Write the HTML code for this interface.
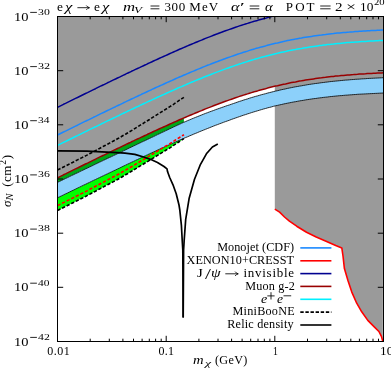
<!DOCTYPE html>
<html><head><meta charset="utf-8"><style>
html,body{margin:0;padding:0;background:#fff}
#w{position:relative;width:391px;height:369px;overflow:hidden;background:#fff;font-family:"Liberation Serif",serif;color:#000}
.t{position:absolute;white-space:pre;line-height:1;transform-origin:0 0;display:block}
.i{font-style:italic}
.r{position:absolute;white-space:nowrap;line-height:1;transform-origin:0 0;transform:rotate(-90deg) translateY(-100%)}
#tx{position:absolute;left:0;top:0;width:391px;height:369px;will-change:transform}
</style></head><body><div id="w">
<svg width="391" height="369" viewBox="0 0 391 369" style="position:absolute;left:0;top:0">
<defs><clipPath id="c"><rect x="57.5" y="16.5" width="326.0" height="325.0"/></clipPath></defs>
<g clip-path="url(#c)" fill="none" stroke-linejoin="round">
<polygon fill="#9a9a9a" points="57.5,16.5 57.5,177.8 59.5,176.8 61.5,175.8 63.5,174.8 65.5,173.9 67.5,172.9 69.5,171.9 71.5,170.9 73.5,169.9 75.5,168.9 77.5,168.0 79.5,167.0 81.5,166.0 83.5,165.0 85.5,164.0 87.5,163.1 89.5,162.1 91.5,161.1 93.5,160.1 95.5,159.2 97.5,158.2 99.5,157.2 101.5,156.2 103.5,155.3 105.5,154.3 107.5,153.3 109.5,152.4 111.5,151.4 113.5,150.4 115.5,149.5 117.5,148.5 119.5,147.6 121.5,146.6 123.5,145.6 125.5,144.7 127.5,143.7 129.5,142.8 131.5,141.8 133.5,140.9 135.5,139.9 137.5,139.0 139.5,138.1 141.5,137.1 143.5,136.2 145.5,135.3 147.5,134.3 149.5,133.4 151.5,132.5 153.5,131.5 155.5,130.6 157.5,129.7 159.5,128.8 161.5,127.9 163.5,127.0 165.5,126.1 167.5,125.2 169.5,124.3 171.5,123.4 173.5,122.5 175.5,121.6 177.5,120.7 179.5,119.8 181.5,119.0 183.5,118.1 185.5,117.3 187.5,116.4 189.5,115.5 191.5,114.7 193.5,113.9 195.5,113.0 197.5,112.2 199.5,111.4 201.5,110.6 203.5,109.7 205.5,108.9 207.5,108.1 209.5,107.4 211.5,106.6 213.5,105.8 215.5,105.0 217.5,104.3 219.5,103.5 221.5,102.8 223.5,102.0 225.5,101.3 227.5,100.6 229.5,99.9 231.5,99.2 233.5,98.5 235.5,97.8 237.5,97.1 239.5,96.4 241.5,95.8 243.5,95.1 245.5,94.5 247.5,93.9 249.5,93.2 251.5,92.6 253.5,92.0 255.5,91.4 257.5,90.9 259.5,90.3 261.5,89.7 263.5,89.2 265.5,88.7 267.5,88.1 269.5,87.6 271.5,87.1 273.5,86.6 274.8,86.3 274.8,209.1 279.6,212.1 284.5,217.0 289.4,221.1 296.7,226.2 306.5,232.3 316.2,237.0 326.0,241.3 335.7,245.5 341.8,247.9 343.0,256.0 344.4,268.6 348.1,281.0 351.8,292.1 356.7,303.2 361.7,311.8 367.8,320.4 374.0,326.6 378.9,331.5 381.4,336.4 382.8,341.4 383.5,16.5"/>
<polygon fill="#00a618" points="57.5,177.8 59.5,176.8 61.5,175.8 63.5,174.8 65.5,173.9 67.5,172.9 69.5,171.9 71.5,170.9 73.5,169.9 75.5,168.9 77.5,168.0 79.5,167.0 81.5,166.0 83.5,165.0 85.5,164.0 87.5,163.1 89.5,162.1 91.5,161.1 93.5,160.1 95.5,159.2 97.5,158.2 99.5,157.2 101.5,156.2 103.5,155.3 105.5,154.3 107.5,153.3 109.5,152.4 111.5,151.4 113.5,150.4 115.5,149.5 117.5,148.5 119.5,147.6 121.5,146.6 123.5,145.6 125.5,144.7 127.5,143.7 129.5,142.8 131.5,141.8 133.5,140.9 135.5,139.9 137.5,139.0 139.5,138.1 141.5,137.1 143.5,136.2 145.5,135.3 147.5,134.3 149.5,133.4 151.5,132.5 153.5,131.5 155.5,130.6 157.5,129.7 159.5,128.8 161.5,127.9 163.5,127.0 165.5,126.1 167.5,125.2 169.5,124.3 171.5,123.4 173.5,122.5 175.5,121.6 177.5,120.7 179.5,119.8 181.5,119.0 183.5,118.1 183.9,117.9 183.9,122.2 183.5,122.4 181.5,123.3 179.5,124.3 177.5,125.2 175.5,126.1 173.5,127.0 171.5,128.0 169.5,128.9 167.5,129.9 165.5,130.8 163.5,131.8 161.5,132.7 159.5,133.7 157.5,134.6 155.5,135.6 153.5,136.6 151.5,137.5 149.5,138.5 147.5,139.4 145.5,140.4 143.5,141.3 141.5,142.2 139.5,143.2 137.5,144.1 135.5,145.1 133.5,146.0 131.5,147.0 129.5,147.9 127.5,148.9 125.5,149.9 123.5,150.8 121.5,151.8 119.5,152.8 117.5,153.7 115.5,154.7 113.5,155.6 111.5,156.6 109.5,157.5 107.5,158.4 105.5,159.4 103.5,160.3 101.5,161.3 99.5,162.2 97.5,163.2 95.5,164.1 93.5,165.1 91.5,166.1 89.5,167.0 87.5,168.0 85.5,168.9 83.5,169.9 81.5,170.8 79.5,171.8 77.5,172.8 75.5,173.7 73.5,174.7 71.5,175.6 69.5,176.6 67.5,177.6 65.5,178.5 63.5,179.5 61.5,180.5 59.5,181.4 57.5,182.4"/>
<polygon fill="#00ff00" points="57.5,197.8 59.5,196.8 61.5,195.9 63.5,194.9 65.5,193.9 67.5,193.0 69.5,192.0 71.5,191.0 73.5,190.1 75.5,189.1 77.5,188.1 79.5,187.2 81.5,186.2 83.5,185.2 85.5,184.3 87.5,183.3 89.5,182.4 91.5,181.4 93.5,180.4 95.5,179.5 97.5,178.5 99.5,177.6 101.5,176.6 103.5,175.7 105.5,174.7 107.5,173.8 109.5,172.8 111.5,171.9 113.5,170.9 115.5,170.0 117.5,169.0 119.5,168.1 121.5,167.1 123.5,166.1 125.5,165.2 127.5,164.2 129.5,163.3 131.5,162.3 133.5,161.4 135.5,160.4 137.5,159.5 139.5,158.5 141.5,157.6 143.5,156.6 145.5,155.7 147.5,154.8 149.5,153.8 151.5,152.9 153.5,152.0 155.5,151.1 157.5,150.1 159.5,149.2 161.5,148.3 163.5,147.4 165.5,146.5 167.5,145.6 169.5,144.7 171.5,143.8 173.5,142.9 175.5,142.0 177.5,141.1 179.5,140.2 181.5,139.4 183.5,138.5 183.9,138.3 183.9,138.7 183.5,138.9 181.5,140.2 179.5,141.5 177.5,142.8 175.5,144.1 173.5,145.4 171.5,146.8 169.5,148.1 167.5,149.3 165.5,150.5 163.5,151.7 161.5,152.9 159.5,154.2 157.5,155.4 155.5,156.6 153.5,157.9 151.5,159.1 149.5,160.4 147.5,161.6 145.5,162.8 143.5,164.0 141.5,165.2 139.5,166.4 137.5,167.7 135.5,168.9 133.5,170.1 131.5,171.3 129.5,172.5 127.5,173.7 125.5,174.8 123.5,176.0 121.5,177.2 119.5,178.3 117.5,179.5 115.5,180.6 113.5,181.6 111.5,182.7 109.5,183.7 107.5,184.8 105.5,185.8 103.5,186.9 101.5,188.0 99.5,189.0 97.5,190.1 95.5,191.2 93.5,192.2 91.5,193.3 89.5,194.4 87.5,195.4 85.5,196.5 83.5,197.5 81.5,198.5 79.5,199.5 77.5,200.5 75.5,201.5 73.5,202.5 71.5,203.5 69.5,204.5 67.5,205.5 65.5,206.5 63.5,207.5 61.5,208.5 59.5,209.5 57.5,210.5"/>
<polygon fill="#8cd0fa" points="57.5,182.4 59.5,181.4 61.5,180.5 63.5,179.5 65.5,178.5 67.5,177.6 69.5,176.6 71.5,175.6 73.5,174.7 75.5,173.7 77.5,172.8 79.5,171.8 81.5,170.8 83.5,169.9 85.5,168.9 87.5,168.0 89.5,167.0 91.5,166.1 93.5,165.1 95.5,164.1 97.5,163.2 99.5,162.2 101.5,161.3 103.5,160.3 105.5,159.4 107.5,158.4 109.5,157.5 111.5,156.6 113.5,155.6 115.5,154.7 117.5,153.7 119.5,152.8 121.5,151.8 123.5,150.8 125.5,149.9 127.5,148.9 129.5,147.9 131.5,147.0 133.5,146.0 135.5,145.1 137.5,144.1 139.5,143.2 141.5,142.2 143.5,141.3 145.5,140.4 147.5,139.4 149.5,138.5 151.5,137.5 153.5,136.6 155.5,135.6 157.5,134.6 159.5,133.7 161.5,132.7 163.5,131.8 165.5,130.8 167.5,129.9 169.5,128.9 171.5,128.0 173.5,127.0 175.5,126.1 177.5,125.2 179.5,124.3 181.5,123.3 183.5,122.4 185.5,121.6 187.5,120.7 189.5,119.9 191.5,119.0 193.5,118.2 195.5,117.4 197.5,116.6 199.5,115.8 201.5,115.0 203.5,114.2 205.5,113.4 207.5,112.7 209.5,111.9 211.5,111.2 213.5,110.5 215.5,109.7 217.5,109.0 219.5,108.3 221.5,107.6 223.5,106.9 225.5,106.2 227.5,105.5 229.5,104.9 231.5,104.2 233.5,103.5 235.5,102.8 237.5,102.1 239.5,101.4 241.5,100.8 243.5,100.1 245.5,99.5 247.5,98.9 249.5,98.2 251.5,97.6 253.5,97.0 255.5,96.4 257.5,95.9 259.5,95.3 261.5,94.7 263.5,94.2 265.5,93.7 267.5,93.1 269.5,92.6 271.5,92.1 273.5,91.6 275.5,91.1 277.5,90.7 279.5,90.2 281.5,89.7 283.5,89.3 285.5,88.9 287.5,88.4 289.5,88.0 291.5,87.6 293.5,87.2 295.5,86.8 297.5,86.5 299.5,86.1 301.5,85.8 303.5,85.4 305.5,85.1 307.5,84.7 309.5,84.4 311.5,84.1 313.5,83.8 315.5,83.5 317.5,83.3 319.5,83.0 321.5,82.7 323.5,82.5 325.5,82.2 327.5,82.0 329.5,81.7 331.5,81.5 333.5,81.3 335.5,81.1 337.5,80.9 339.5,80.7 341.5,80.5 343.5,80.3 345.5,80.1 347.5,80.0 349.5,79.8 351.5,79.6 353.5,79.5 355.5,79.3 357.5,79.2 359.5,79.1 361.5,78.9 363.5,78.8 365.5,78.7 367.5,78.5 369.5,78.4 371.5,78.3 373.5,78.2 375.5,78.1 377.5,78.0 379.5,77.9 381.5,77.8 383.5,77.7 383.5,93.0 381.5,93.1 379.5,93.2 377.5,93.3 375.5,93.4 373.5,93.5 371.5,93.6 369.5,93.7 367.5,93.8 365.5,93.9 363.5,94.0 361.5,94.1 359.5,94.2 357.5,94.3 355.5,94.5 353.5,94.6 351.5,94.8 349.5,94.9 347.5,95.1 345.5,95.2 343.5,95.4 341.5,95.6 339.5,95.7 337.5,95.9 335.5,96.1 333.5,96.3 331.5,96.5 329.5,96.7 327.5,97.0 325.5,97.2 323.5,97.4 321.5,97.7 319.5,97.9 317.5,98.2 315.5,98.5 313.5,98.7 311.5,99.0 309.5,99.3 307.5,99.6 305.5,99.9 303.5,100.3 301.5,100.6 299.5,100.9 297.5,101.3 295.5,101.7 293.5,102.0 291.5,102.4 289.5,102.8 287.5,103.2 285.5,103.6 283.5,104.0 281.5,104.5 279.5,104.9 277.5,105.4 275.5,105.8 273.5,106.3 271.5,106.9 269.5,107.4 267.5,107.9 265.5,108.5 263.5,109.0 261.5,109.6 259.5,110.2 257.5,110.8 255.5,111.4 253.5,112.0 251.5,112.6 249.5,113.3 247.5,113.9 245.5,114.6 243.5,115.2 241.5,115.9 239.5,116.6 237.5,117.3 235.5,118.0 233.5,118.7 231.5,119.4 229.5,120.2 227.5,120.9 225.5,121.6 223.5,122.3 221.5,123.1 219.5,123.8 217.5,124.6 215.5,125.3 213.5,126.1 211.5,126.9 209.5,127.7 207.5,128.5 205.5,129.3 203.5,130.1 201.5,130.9 199.5,131.7 197.5,132.6 195.5,133.4 193.5,134.2 191.5,135.1 189.5,135.9 187.5,136.8 185.5,137.6 183.5,138.5 181.5,139.4 179.5,140.2 177.5,141.1 175.5,142.0 173.5,142.9 171.5,143.8 169.5,144.7 167.5,145.6 165.5,146.5 163.5,147.4 161.5,148.3 159.5,149.2 157.5,150.1 155.5,151.1 153.5,152.0 151.5,152.9 149.5,153.8 147.5,154.8 145.5,155.7 143.5,156.6 141.5,157.6 139.5,158.5 137.5,159.5 135.5,160.4 133.5,161.4 131.5,162.3 129.5,163.3 127.5,164.2 125.5,165.2 123.5,166.1 121.5,167.1 119.5,168.1 117.5,169.0 115.5,170.0 113.5,170.9 111.5,171.9 109.5,172.8 107.5,173.8 105.5,174.7 103.5,175.7 101.5,176.6 99.5,177.6 97.5,178.5 95.5,179.5 93.5,180.4 91.5,181.4 89.5,182.4 87.5,183.3 85.5,184.3 83.5,185.2 81.5,186.2 79.5,187.2 77.5,188.1 75.5,189.1 73.5,190.1 71.5,191.0 69.5,192.0 67.5,193.0 65.5,193.9 63.5,194.9 61.5,195.9 59.5,196.8 57.5,197.8"/>
<polyline stroke="#000" stroke-width="0.8" points="57.5,182.4 59.5,181.4 61.5,180.5 63.5,179.5 65.5,178.5 67.5,177.6 69.5,176.6 71.5,175.6 73.5,174.7 75.5,173.7 77.5,172.8 79.5,171.8 81.5,170.8 83.5,169.9 85.5,168.9 87.5,168.0 89.5,167.0 91.5,166.1 93.5,165.1 95.5,164.1 97.5,163.2 99.5,162.2 101.5,161.3 103.5,160.3 105.5,159.4 107.5,158.4 109.5,157.5 111.5,156.6 113.5,155.6 115.5,154.7 117.5,153.7 119.5,152.8 121.5,151.8 123.5,150.8 125.5,149.9 127.5,148.9 129.5,147.9 131.5,147.0 133.5,146.0 135.5,145.1 137.5,144.1 139.5,143.2 141.5,142.2 143.5,141.3 145.5,140.4 147.5,139.4 149.5,138.5 151.5,137.5 153.5,136.6 155.5,135.6 157.5,134.6 159.5,133.7 161.5,132.7 163.5,131.8 165.5,130.8 167.5,129.9 169.5,128.9 171.5,128.0 173.5,127.0 175.5,126.1 177.5,125.2 179.5,124.3 181.5,123.3 183.5,122.4 185.5,121.6 187.5,120.7 189.5,119.9 191.5,119.0 193.5,118.2 195.5,117.4 197.5,116.6 199.5,115.8 201.5,115.0 203.5,114.2 205.5,113.4 207.5,112.7 209.5,111.9 211.5,111.2 213.5,110.5 215.5,109.7 217.5,109.0 219.5,108.3 221.5,107.6 223.5,106.9 225.5,106.2 227.5,105.5 229.5,104.9 231.5,104.2 233.5,103.5 235.5,102.8 237.5,102.1 239.5,101.4 241.5,100.8 243.5,100.1 245.5,99.5 247.5,98.9 249.5,98.2 251.5,97.6 253.5,97.0 255.5,96.4 257.5,95.9 259.5,95.3 261.5,94.7 263.5,94.2 265.5,93.7 267.5,93.1 269.5,92.6 271.5,92.1 273.5,91.6 275.5,91.1 277.5,90.7 279.5,90.2 281.5,89.7 283.5,89.3 285.5,88.9 287.5,88.4 289.5,88.0 291.5,87.6 293.5,87.2 295.5,86.8 297.5,86.5 299.5,86.1 301.5,85.8 303.5,85.4 305.5,85.1 307.5,84.7 309.5,84.4 311.5,84.1 313.5,83.8 315.5,83.5 317.5,83.3 319.5,83.0 321.5,82.7 323.5,82.5 325.5,82.2 327.5,82.0 329.5,81.7 331.5,81.5 333.5,81.3 335.5,81.1 337.5,80.9 339.5,80.7 341.5,80.5 343.5,80.3 345.5,80.1 347.5,80.0 349.5,79.8 351.5,79.6 353.5,79.5 355.5,79.3 357.5,79.2 359.5,79.1 361.5,78.9 363.5,78.8 365.5,78.7 367.5,78.5 369.5,78.4 371.5,78.3 373.5,78.2 375.5,78.1 377.5,78.0 379.5,77.9 381.5,77.8 383.5,77.7"/>
<polyline stroke="#000" stroke-width="0.8" points="57.5,197.8 59.5,196.8 61.5,195.9 63.5,194.9 65.5,193.9 67.5,193.0 69.5,192.0 71.5,191.0 73.5,190.1 75.5,189.1 77.5,188.1 79.5,187.2 81.5,186.2 83.5,185.2 85.5,184.3 87.5,183.3 89.5,182.4 91.5,181.4 93.5,180.4 95.5,179.5 97.5,178.5 99.5,177.6 101.5,176.6 103.5,175.7 105.5,174.7 107.5,173.8 109.5,172.8 111.5,171.9 113.5,170.9 115.5,170.0 117.5,169.0 119.5,168.1 121.5,167.1 123.5,166.1 125.5,165.2 127.5,164.2 129.5,163.3 131.5,162.3 133.5,161.4 135.5,160.4 137.5,159.5 139.5,158.5 141.5,157.6 143.5,156.6 145.5,155.7 147.5,154.8 149.5,153.8 151.5,152.9 153.5,152.0 155.5,151.1 157.5,150.1 159.5,149.2 161.5,148.3 163.5,147.4 165.5,146.5 167.5,145.6 169.5,144.7 171.5,143.8 173.5,142.9 175.5,142.0 177.5,141.1 179.5,140.2 181.5,139.4 183.5,138.5 185.5,137.6 187.5,136.8 189.5,135.9 191.5,135.1 193.5,134.2 195.5,133.4 197.5,132.6 199.5,131.7 201.5,130.9 203.5,130.1 205.5,129.3 207.5,128.5 209.5,127.7 211.5,126.9 213.5,126.1 215.5,125.3 217.5,124.6 219.5,123.8 221.5,123.1 223.5,122.3 225.5,121.6 227.5,120.9 229.5,120.2 231.5,119.4 233.5,118.7 235.5,118.0 237.5,117.3 239.5,116.6 241.5,115.9 243.5,115.2 245.5,114.6 247.5,113.9 249.5,113.3 251.5,112.6 253.5,112.0 255.5,111.4 257.5,110.8 259.5,110.2 261.5,109.6 263.5,109.0 265.5,108.5 267.5,107.9 269.5,107.4 271.5,106.9 273.5,106.3 275.5,105.8 277.5,105.4 279.5,104.9 281.5,104.5 283.5,104.0 285.5,103.6 287.5,103.2 289.5,102.8 291.5,102.4 293.5,102.0 295.5,101.7 297.5,101.3 299.5,100.9 301.5,100.6 303.5,100.3 305.5,99.9 307.5,99.6 309.5,99.3 311.5,99.0 313.5,98.7 315.5,98.5 317.5,98.2 319.5,97.9 321.5,97.7 323.5,97.4 325.5,97.2 327.5,97.0 329.5,96.7 331.5,96.5 333.5,96.3 335.5,96.1 337.5,95.9 339.5,95.7 341.5,95.6 343.5,95.4 345.5,95.2 347.5,95.1 349.5,94.9 351.5,94.8 353.5,94.6 355.5,94.5 357.5,94.3 359.5,94.2 361.5,94.1 363.5,94.0 365.5,93.9 367.5,93.8 369.5,93.7 371.5,93.6 373.5,93.5 375.5,93.4 377.5,93.3 379.5,93.2 381.5,93.1 383.5,93.0"/>
<polyline stroke="#990000" stroke-width="1.5" points="57.5,177.8 59.5,176.8 61.5,175.8 63.5,174.8 65.5,173.9 67.5,172.9 69.5,171.9 71.5,170.9 73.5,169.9 75.5,168.9 77.5,168.0 79.5,167.0 81.5,166.0 83.5,165.0 85.5,164.0 87.5,163.1 89.5,162.1 91.5,161.1 93.5,160.1 95.5,159.2 97.5,158.2 99.5,157.2 101.5,156.2 103.5,155.3 105.5,154.3 107.5,153.3 109.5,152.4 111.5,151.4 113.5,150.4 115.5,149.5 117.5,148.5 119.5,147.6 121.5,146.6 123.5,145.6 125.5,144.7 127.5,143.7 129.5,142.8 131.5,141.8 133.5,140.9 135.5,139.9 137.5,139.0 139.5,138.1 141.5,137.1 143.5,136.2 145.5,135.3 147.5,134.3 149.5,133.4 151.5,132.5 153.5,131.5 155.5,130.6 157.5,129.7 159.5,128.8 161.5,127.9 163.5,127.0 165.5,126.1 167.5,125.2 169.5,124.3 171.5,123.4 173.5,122.5 175.5,121.6 177.5,120.7 179.5,119.8 181.5,119.0 183.5,118.1 185.5,117.3 187.5,116.4 189.5,115.5 191.5,114.7 193.5,113.9 195.5,113.0 197.5,112.2 199.5,111.4 201.5,110.6 203.5,109.7 205.5,108.9 207.5,108.1 209.5,107.4 211.5,106.6 213.5,105.8 215.5,105.0 217.5,104.3 219.5,103.5 221.5,102.8 223.5,102.0 225.5,101.3 227.5,100.6 229.5,99.9 231.5,99.2 233.5,98.5 235.5,97.8 237.5,97.1 239.5,96.4 241.5,95.8 243.5,95.1 245.5,94.5 247.5,93.9 249.5,93.2 251.5,92.6 253.5,92.0 255.5,91.4 257.5,90.9 259.5,90.3 261.5,89.7 263.5,89.2 265.5,88.7 267.5,88.1 269.5,87.6 271.5,87.1 273.5,86.6 275.5,86.1 277.5,85.7 279.5,85.2 281.5,84.7 283.5,84.3 285.5,83.9 287.5,83.4 289.5,83.0 291.5,82.6 293.5,82.2 295.5,81.9 297.5,81.5 299.5,81.1 301.5,80.8 303.5,80.4 305.5,80.1 307.5,79.8 309.5,79.5 311.5,79.2 313.5,78.9 315.5,78.6 317.5,78.3 319.5,78.0 321.5,77.8 323.5,77.5 325.5,77.3 327.5,77.0 329.5,76.8 331.5,76.6 333.5,76.4 335.5,76.1 337.5,75.9 339.5,75.8 341.5,75.6 343.5,75.4 345.5,75.2 347.5,75.0 349.5,74.9 351.5,74.7 353.5,74.6 355.5,74.4 357.5,74.3 359.5,74.1 361.5,74.0 363.5,73.9 365.5,73.8 367.5,73.6 369.5,73.5 371.5,73.4 373.5,73.3 375.5,73.2 377.5,73.1 379.5,73.0 381.5,72.9 383.5,72.8"/>
<polyline stroke="#00f0ff" stroke-width="1.5" points="57.5,145.4 59.5,144.4 61.5,143.4 63.5,142.4 65.5,141.5 67.5,140.5 69.5,139.5 71.5,138.5 73.5,137.5 75.5,136.5 77.5,135.6 79.5,134.6 81.5,133.6 83.5,132.6 85.5,131.6 87.5,130.7 89.5,129.7 91.5,128.7 93.5,127.7 95.5,126.8 97.5,125.8 99.5,124.8 101.5,123.8 103.5,122.9 105.5,121.9 107.5,120.9 109.5,120.0 111.5,119.0 113.5,118.0 115.5,117.1 117.5,116.1 119.5,115.2 121.5,114.2 123.5,113.2 125.5,112.3 127.5,111.3 129.5,110.4 131.5,109.4 133.5,108.5 135.5,107.5 137.5,106.6 139.5,105.7 141.5,104.7 143.5,103.8 145.5,102.9 147.5,101.9 149.5,101.0 151.5,100.1 153.5,99.1 155.5,98.2 157.5,97.3 159.5,96.4 161.5,95.5 163.5,94.6 165.5,93.7 167.5,92.8 169.5,91.9 171.5,91.0 173.5,90.1 175.5,89.2 177.5,88.3 179.5,87.4 181.5,86.6 183.5,85.7 185.5,84.9 187.5,84.0 189.5,83.1 191.5,82.3 193.5,81.5 195.5,80.6 197.5,79.8 199.5,79.0 201.5,78.2 203.5,77.3 205.5,76.5 207.5,75.7 209.5,75.0 211.5,74.2 213.5,73.4 215.5,72.6 217.5,71.9 219.5,71.1 221.5,70.4 223.5,69.6 225.5,68.9 227.5,68.2 229.5,67.5 231.5,66.8 233.5,66.1 235.5,65.4 237.5,64.7 239.5,64.0 241.5,63.4 243.5,62.7 245.5,62.1 247.5,61.5 249.5,60.8 251.5,60.2 253.5,59.6 255.5,59.0 257.5,58.5 259.5,57.9 261.5,57.3 263.5,56.8 265.5,56.3 267.5,55.7 269.5,55.2 271.5,54.7 273.5,54.2 275.5,53.7 277.5,53.3 279.5,52.8 281.5,52.3 283.5,51.9 285.5,51.5 287.5,51.0 289.5,50.6 291.5,50.2 293.5,49.8 295.5,49.5 297.5,49.1 299.5,48.7 301.5,48.4 303.5,48.0 305.5,47.7 307.5,47.4 309.5,47.1 311.5,46.8 313.5,46.5 315.5,46.2 317.5,45.9 319.5,45.6 321.5,45.4 323.5,45.1 325.5,44.9 327.5,44.6 329.5,44.4 331.5,44.2 333.5,44.0 335.5,43.7 337.5,43.5 339.5,43.4 341.5,43.2 343.5,43.0 345.5,42.8 347.5,42.6 349.5,42.5 351.5,42.3 353.5,42.2 355.5,42.0 357.5,41.9 359.5,41.7 361.5,41.6 363.5,41.5 365.5,41.4 367.5,41.2 369.5,41.1 371.5,41.0 373.5,40.9 375.5,40.8 377.5,40.7 379.5,40.6 381.5,40.5 383.5,40.4"/>
<polyline stroke="#1a88ff" stroke-width="1.5" points="57.5,135.0 59.5,134.0 61.5,133.0 63.5,132.0 65.5,131.1 67.5,130.1 69.5,129.1 71.5,128.1 73.5,127.1 75.5,126.1 77.5,125.2 79.5,124.2 81.5,123.2 83.5,122.2 85.5,121.2 87.5,120.3 89.5,119.3 91.5,118.3 93.5,117.3 95.5,116.4 97.5,115.4 99.5,114.4 101.5,113.4 103.5,112.5 105.5,111.5 107.5,110.5 109.5,109.6 111.5,108.6 113.5,107.6 115.5,106.7 117.5,105.7 119.5,104.8 121.5,103.8 123.5,102.8 125.5,101.9 127.5,100.9 129.5,100.0 131.5,99.0 133.5,98.1 135.5,97.1 137.5,96.2 139.5,95.3 141.5,94.3 143.5,93.4 145.5,92.5 147.5,91.5 149.5,90.6 151.5,89.7 153.5,88.7 155.5,87.8 157.5,86.9 159.5,86.0 161.5,85.1 163.5,84.2 165.5,83.3 167.5,82.4 169.5,81.5 171.5,80.6 173.5,79.7 175.5,78.8 177.5,77.9 179.5,77.0 181.5,76.2 183.5,75.3 185.5,74.5 187.5,73.6 189.5,72.7 191.5,71.9 193.5,71.1 195.5,70.2 197.5,69.4 199.5,68.6 201.5,67.8 203.5,66.9 205.5,66.1 207.5,65.3 209.5,64.6 211.5,63.8 213.5,63.0 215.5,62.2 217.5,61.5 219.5,60.7 221.5,60.0 223.5,59.2 225.5,58.5 227.5,57.8 229.5,57.1 231.5,56.4 233.5,55.7 235.5,55.0 237.5,54.3 239.5,53.6 241.5,53.0 243.5,52.3 245.5,51.7 247.5,51.1 249.5,50.4 251.5,49.8 253.5,49.2 255.5,48.6 257.5,48.1 259.5,47.5 261.5,46.9 263.5,46.4 265.5,45.9 267.5,45.3 269.5,44.8 271.5,44.3 273.5,43.8 275.5,43.3 277.5,42.9 279.5,42.4 281.5,41.9 283.5,41.5 285.5,41.1 287.5,40.6 289.5,40.2 291.5,39.8 293.5,39.4 295.5,39.1 297.5,38.7 299.5,38.3 301.5,38.0 303.5,37.6 305.5,37.3 307.5,37.0 309.5,36.7 311.5,36.4 313.5,36.1 315.5,35.8 317.5,35.5 319.5,35.2 321.5,35.0 323.5,34.7 325.5,34.5 327.5,34.2 329.5,34.0 331.5,33.8 333.5,33.6 335.5,33.3 337.5,33.1 339.5,33.0 341.5,32.8 343.5,32.6 345.5,32.4 347.5,32.2 349.5,32.1 351.5,31.9 353.5,31.8 355.5,31.6 357.5,31.5 359.5,31.3 361.5,31.2 363.5,31.1 365.5,31.0 367.5,30.8 369.5,30.7 371.5,30.6 373.5,30.5 375.5,30.4 377.5,30.3 379.5,30.2 381.5,30.1 383.5,30.0"/>
<polyline stroke="#000090" stroke-width="1.5" points="57.5,107.3 59.5,106.3 61.5,105.3 63.5,104.3 65.5,103.4 67.5,102.4 69.5,101.4 71.5,100.4 73.5,99.4 75.5,98.4 77.5,97.5 79.5,96.5 81.5,95.5 83.5,94.5 85.5,93.5 87.5,92.6 89.5,91.6 91.5,90.6 93.5,89.6 95.5,88.7 97.5,87.7 99.5,86.7 101.5,85.7 103.5,84.8 105.5,83.8 107.5,82.8 109.5,81.9 111.5,80.9 113.5,79.9 115.5,79.0 117.5,78.0 119.5,77.1 121.5,76.1 123.5,75.1 125.5,74.2 127.5,73.2 129.5,72.3 131.5,71.3 133.5,70.4 135.5,69.4 137.5,68.5 139.5,67.6 141.5,66.6 143.5,65.7 145.5,64.8 147.5,63.8 149.5,62.9 151.5,62.0 153.5,61.0 155.5,60.1 157.5,59.2 159.5,58.3 161.5,57.4 163.5,56.5 165.5,55.6 167.5,54.7 169.5,53.8 171.5,52.9 173.5,52.0 175.5,51.1 177.5,50.2 179.5,49.3 181.5,48.5 183.5,47.6 185.5,46.8 187.5,45.9 189.5,45.0 191.5,44.2 193.5,43.4 195.5,42.5 197.5,41.7 199.5,40.9 201.5,40.1 203.5,39.2 205.5,38.4 207.5,37.6 209.5,36.9 211.5,36.1 213.5,35.3 215.5,34.5 217.5,33.8 219.5,33.0 221.5,32.3 223.5,31.5 225.5,30.8 227.5,30.1 229.5,29.4 231.5,28.7 233.5,28.0 235.5,27.3 237.5,26.6 239.5,25.9 241.5,25.3 243.5,24.6 245.5,24.0 247.5,23.4 249.5,22.7 251.5,22.1 253.5,21.5 255.5,20.9 257.5,20.4 259.5,19.8 261.5,19.2 263.5,18.7 265.5,18.2 267.5,17.6 269.5,17.1 271.5,16.6 273.5,16.1 275.0,15.7"/>
<polyline stroke="#000" stroke-width="1.6" stroke-dasharray="3.3,1.8" points="57.5,170.0 59.5,169.0 61.5,168.0 63.5,167.0 65.5,166.0 67.5,165.0 69.5,164.0 71.5,163.0 73.5,162.0 75.5,160.9 77.5,159.9 79.5,158.9 81.5,157.9 83.5,156.9 85.5,155.9 87.5,154.9 89.5,153.8 91.5,152.8 93.5,151.7 95.5,150.6 97.5,149.5 99.5,148.5 101.5,147.4 103.5,146.3 105.5,145.3 107.5,144.2 109.5,143.1 111.5,142.1 113.5,141.0 115.5,139.9 117.5,138.8 119.5,137.7 121.5,136.5 123.5,135.3 125.5,134.2 127.5,133.0 129.5,131.8 131.5,130.6 133.5,129.4 135.5,128.1 137.5,126.9 139.5,125.6 141.5,124.4 143.5,123.2 145.5,121.9 147.5,120.7 149.5,119.5 151.5,118.2 153.5,116.9 155.5,115.7 157.5,114.4 159.5,113.2 161.5,111.9 163.5,110.7 165.5,109.4 167.5,108.2 169.5,106.9 171.5,105.6 173.5,104.3 175.5,102.9 177.5,101.6 179.5,100.2 181.5,98.9 183.5,97.6 183.9,97.3"/>
<polyline stroke="#ff0000" stroke-width="1.6" stroke-dasharray="3.3,1.8" points="57.5,205.6 59.5,204.6 61.5,203.6 63.5,202.6 65.5,201.6 67.5,200.6 69.5,199.6 71.5,198.6 73.5,197.6 75.5,196.6 77.5,195.6 79.5,194.6 81.5,193.6 83.5,192.6 85.5,191.6 87.5,190.6 89.5,189.5 91.5,188.4 93.5,187.4 95.5,186.3 97.5,185.3 99.5,184.2 101.5,183.1 103.5,182.1 105.5,181.0 107.5,180.0 109.5,178.9 111.5,177.9 113.5,176.8 115.5,175.8 117.5,174.7 119.5,173.6 121.5,172.4 123.5,171.3 125.5,170.1 127.5,169.0 129.5,167.9 131.5,166.7 133.5,165.5 135.5,164.3 137.5,163.1 139.5,161.9 141.5,160.7 143.5,159.5 145.5,158.3 147.5,157.1 149.5,155.9 151.5,154.7 153.5,153.5 155.5,152.3 157.5,151.1 159.5,149.9 161.5,148.6 163.5,147.4 165.5,146.2 167.5,145.1 169.5,143.9 171.5,142.6 173.5,141.3 175.5,140.0 177.5,138.8 179.5,137.5 181.5,136.2 183.5,135.0 183.9,134.7"/>
<polyline stroke="#000" stroke-width="1.6" stroke-dasharray="3.3,1.8" points="57.5,210.5 59.5,209.5 61.5,208.5 63.5,207.5 65.5,206.5 67.5,205.5 69.5,204.5 71.5,203.5 73.5,202.5 75.5,201.5 77.5,200.5 79.5,199.5 81.5,198.5 83.5,197.5 85.5,196.5 87.5,195.4 89.5,194.4 91.5,193.3 93.5,192.2 95.5,191.2 97.5,190.1 99.5,189.0 101.5,188.0 103.5,186.9 105.5,185.8 107.5,184.8 109.5,183.7 111.5,182.7 113.5,181.6 115.5,180.6 117.5,179.5 119.5,178.3 121.5,177.2 123.5,176.0 125.5,174.8 127.5,173.7 129.5,172.5 131.5,171.3 133.5,170.1 135.5,168.9 137.5,167.7 139.5,166.4 141.5,165.2 143.5,164.0 145.5,162.8 147.5,161.6 149.5,160.4 151.5,159.1 153.5,157.9 155.5,156.6 157.5,155.4 159.5,154.2 161.5,152.9 163.5,151.7 165.5,150.5 167.5,149.3 169.5,148.1 171.5,146.8 173.5,145.4 175.5,144.1 177.5,142.8 179.5,141.5 181.5,140.2 183.5,138.9 183.9,138.7"/>
<polyline stroke="#ff0000" stroke-width="1.6" points="274.8,209.1 279.6,212.1 284.5,217.0 289.4,221.1 296.7,226.2 306.5,232.3 316.2,237.0 326.0,241.3 335.7,245.5 341.8,247.9 343.0,256.0 344.4,268.6 348.1,281.0 351.8,292.1 356.7,303.2 361.7,311.8 367.8,320.4 374.0,326.6 378.9,331.5 381.4,336.4 382.8,341.4"/>
<polyline stroke="#000" stroke-width="1.7" points="57.5,150.9 87.0,151.2 117.0,152.6 125.0,153.1 134.8,154.4 144.5,157.2 151.0,159.6 157.5,162.6 164.0,166.5 167.0,168.9 167.6,171.8 169.7,177.5 173.0,184.8 176.2,193.8 179.0,205.0 179.8,210.0 181.4,225.4 182.2,240.0 182.8,250.0 183.2,317.5"/>
<polyline stroke="#000" stroke-width="1.7" points="183.2,317.5 183.6,250.0 184.2,240.0 185.7,219.4 189.1,198.6 194.5,179.2 200.5,164.3 206.4,153.8 212.4,147.0 217.8,144.0"/>
</g>
<line x1="300.3" x2="331.4" y1="247.9" y2="247.9" stroke="#1a88ff" stroke-width="1.6"/>
<line x1="300.3" x2="331.4" y1="260.8" y2="260.8" stroke="#ff0000" stroke-width="1.6"/>
<line x1="300.3" x2="331.4" y1="273.6" y2="273.6" stroke="#000090" stroke-width="1.6"/>
<line x1="300.3" x2="331.4" y1="286.4" y2="286.4" stroke="#990000" stroke-width="1.6"/>
<line x1="300.3" x2="331.4" y1="299.3" y2="299.3" stroke="#00f0ff" stroke-width="1.6"/>
<line x1="300.3" x2="331.4" y1="312.1" y2="312.1" stroke="#000" stroke-width="1.6" stroke-dasharray="3.4,1.7"/>
<line x1="300.3" x2="331.4" y1="325.0" y2="325.0" stroke="#000" stroke-width="1.6"/>
<g stroke="#000" stroke-width="1" fill="none">
<rect x="57.5" y="16.5" width="326.0" height="325.0"/>
<path d="M57.5 16.5h5.7M383.5 16.5h-5.7"/>
<path d="M57.5 70.7h5.7M383.5 70.7h-5.7"/>
<path d="M57.5 124.8h5.7M383.5 124.8h-5.7"/>
<path d="M57.5 179.0h5.7M383.5 179.0h-5.7"/>
<path d="M57.5 233.2h5.7M383.5 233.2h-5.7"/>
<path d="M57.5 287.3h5.7M383.5 287.3h-5.7"/>
<path d="M57.5 341.5h5.7M383.5 341.5h-5.7"/>
<path d="M57.5 341.5v-5.7M57.5 16.5v5.7"/>
<path d="M90.2 341.5v-2.8M90.2 16.5v2.8"/>
<path d="M109.3 341.5v-2.8M109.3 16.5v2.8"/>
<path d="M122.9 341.5v-2.8M122.9 16.5v2.8"/>
<path d="M133.5 341.5v-2.8M133.5 16.5v2.8"/>
<path d="M142.1 341.5v-2.8M142.1 16.5v2.8"/>
<path d="M149.3 341.5v-2.8M149.3 16.5v2.8"/>
<path d="M155.6 341.5v-2.8M155.6 16.5v2.8"/>
<path d="M161.2 341.5v-2.8M161.2 16.5v2.8"/>
<path d="M166.2 341.5v-5.7M166.2 16.5v5.7"/>
<path d="M198.9 341.5v-2.8M198.9 16.5v2.8"/>
<path d="M218.0 341.5v-2.8M218.0 16.5v2.8"/>
<path d="M231.6 341.5v-2.8M231.6 16.5v2.8"/>
<path d="M242.1 341.5v-2.8M242.1 16.5v2.8"/>
<path d="M250.7 341.5v-2.8M250.7 16.5v2.8"/>
<path d="M258.0 341.5v-2.8M258.0 16.5v2.8"/>
<path d="M264.3 341.5v-2.8M264.3 16.5v2.8"/>
<path d="M269.9 341.5v-2.8M269.9 16.5v2.8"/>
<path d="M274.8 341.5v-5.7M274.8 16.5v5.7"/>
<path d="M307.5 341.5v-2.8M307.5 16.5v2.8"/>
<path d="M326.7 341.5v-2.8M326.7 16.5v2.8"/>
<path d="M340.3 341.5v-2.8M340.3 16.5v2.8"/>
<path d="M350.8 341.5v-2.8M350.8 16.5v2.8"/>
<path d="M359.4 341.5v-2.8M359.4 16.5v2.8"/>
<path d="M366.7 341.5v-2.8M366.7 16.5v2.8"/>
<path d="M373.0 341.5v-2.8M373.0 16.5v2.8"/>
<path d="M378.5 341.5v-2.8M378.5 16.5v2.8"/>
</g>
</svg>
<div id="tx">
<svg width="391" height="369" viewBox="0 0 391 369" style="position:absolute;left:0;top:0"><g stroke="#000" stroke-width="0.85" fill="none"><path d="M77.4 7.7H89.2M86.3 5.5Q87.7 7.4 89.5 7.7Q87.7 8.0 86.3 9.9"/><path d="M150.5 6.0H159.4M150.5 8.8H159.4"/><path d="M249.7 6.0H259.3M249.7 8.8H259.3"/><path d="M320.2 6.0H330.6M320.2 8.8H330.6"/><path d="M30.2 12.4H36.9"/><path d="M30.2 66.6H36.9"/><path d="M30.2 120.7H36.9"/><path d="M30.2 174.9H36.9"/><path d="M30.2 229.1H36.9"/><path d="M30.2 283.2H36.9"/><path d="M30.2 337.4H36.9"/><path d="M225.3 273.8H238.0M235.1 271.6Q236.5 273.5 238.3 273.8Q236.5 274.1 235.1 276.0"/><path d="M267.3 295.9H274.6M271.0 292.2V299.5"/><path d="M283.5 295.8H291.2"/></g></svg>
<span class="t" style="left:57.28px;top:-0.20px;font-size:13px;transform:scaleX(1.032)">e</span>
<span class="t i" style="left:64.59px;top:-0.20px;font-size:13px;transform:scaleX(1.286)">χ</span>
<span class="t" style="left:94.38px;top:-0.20px;font-size:13px;transform:scaleX(1.032)">e</span>
<span class="t i" style="left:101.67px;top:-0.20px;font-size:13px;transform:scaleX(1.271)">χ</span>
<span class="t i" style="left:122.76px;top:-0.20px;font-size:13px;transform:scaleX(1.285)">m</span>
<span class="t i" style="left:134.17px;top:5.80px;font-size:9px;transform:scaleX(1.461)">V</span>
<span class="t" style="left:164.40px;top:-0.20px;font-size:13px;letter-spacing:0.70px">300</span>
<span class="t" style="left:189.25px;top:-0.20px;font-size:13px;letter-spacing:1.12px">MeV</span>
<span class="t i" style="left:231.29px;top:-0.20px;font-size:13px;transform:scaleX(1.259)">α</span>
<span class="t" style="left:239.55px;top:-0.20px;font-size:13px;transform:scaleX(1.667)">′</span>
<span class="t i" style="left:264.81px;top:-0.20px;font-size:13px;transform:scaleX(1.141)">α</span>
<span class="t" style="left:285.85px;top:-0.20px;font-size:13px;letter-spacing:2.07px">POT</span>
<span class="t" style="left:335.32px;top:-0.20px;font-size:13px;transform:scaleX(1.162)">2</span>
<span class="t" style="left:346.23px;top:-0.20px;font-size:13px;transform:scaleX(1.371)">×</span>
<span class="t" style="left:359.87px;top:-0.20px;font-size:13px;transform:scaleX(1.026)">10</span>
<span class="t" style="left:374.41px;top:-1.80px;font-size:9px;transform:scaleX(1.176)">20</span>
<span class="t" style="left:13.99px;top:9.60px;font-size:13px;transform:scaleX(1.113)">10</span>
<span class="t" style="left:38.15px;top:7.70px;font-size:9px;transform:scaleX(1.309)">30</span>
<span class="t" style="left:13.99px;top:63.77px;font-size:13px;transform:scaleX(1.113)">10</span>
<span class="t" style="left:38.12px;top:61.87px;font-size:9px;transform:scaleX(1.350)">32</span>
<span class="t" style="left:13.99px;top:117.93px;font-size:13px;transform:scaleX(1.113)">10</span>
<span class="t" style="left:38.16px;top:116.03px;font-size:9px;transform:scaleX(1.271)">34</span>
<span class="t" style="left:13.99px;top:172.10px;font-size:13px;transform:scaleX(1.113)">10</span>
<span class="t" style="left:38.15px;top:170.20px;font-size:9px;transform:scaleX(1.309)">36</span>
<span class="t" style="left:13.99px;top:226.27px;font-size:13px;transform:scaleX(1.113)">10</span>
<span class="t" style="left:38.15px;top:224.37px;font-size:9px;transform:scaleX(1.309)">38</span>
<span class="t" style="left:13.99px;top:280.43px;font-size:13px;transform:scaleX(1.113)">10</span>
<span class="t" style="left:38.48px;top:278.53px;font-size:9px;transform:scaleX(1.271)">40</span>
<span class="t" style="left:13.99px;top:334.60px;font-size:13px;transform:scaleX(1.113)">10</span>
<span class="t" style="left:38.47px;top:332.70px;font-size:9px;transform:scaleX(1.309)">42</span>
<span class="t" style="left:47.30px;top:345.20px;font-size:12px;letter-spacing:0.48px">0.01</span>
<span class="t" style="left:158.50px;top:345.20px;font-size:12px;letter-spacing:0.28px">0.1</span>
<span class="t" style="left:272.68px;top:345.20px;font-size:12px;transform:scaleX(0.824)">1</span>
<span class="t" style="left:379.60px;top:345.20px;font-size:12px;transform:scaleX(1.105)">10</span>
<span class="t i" style="left:193.14px;top:353.40px;font-size:13px;transform:scaleX(1.127)">m</span>
<span class="t i" style="left:204.84px;top:359.40px;font-size:9px;transform:scaleX(1.516)">χ</span>
<span class="t" style="left:215.00px;top:354.40px;font-size:12.2px;letter-spacing:0.30px">(GeV)</span>
<span class="t" style="left:217.15px;top:241.20px;font-size:12.2px;letter-spacing:0.07px">Monojet (CDF)</span>
<span class="t" style="left:186.55px;top:254.05px;font-size:12.2px;letter-spacing:0.08px">XENON10+CRESST</span>
<span class="t" style="left:197.11px;top:265.90px;font-size:13px;transform:scaleX(1.156)">J</span>
<span class="t" style="left:204.60px;top:268.40px;font-size:14px;transform:scaleX(1.525)">/</span>
<span class="t i" style="left:210.61px;top:265.90px;font-size:13px;transform:scaleX(1.187)">ψ</span>
<span class="t" style="left:243.45px;top:265.90px;font-size:13px;letter-spacing:0.74px">invisible</span>
<span class="t" style="left:245.25px;top:279.75px;font-size:12.2px;letter-spacing:0.16px">Muon g-2</span>
<span class="t i" style="left:260.63px;top:291.60px;font-size:13px;transform:scaleX(1.086)">e</span>
<span class="t i" style="left:276.84px;top:291.60px;font-size:13px;transform:scaleX(1.048)">e</span>
<span class="t" style="left:232.55px;top:305.45px;font-size:12.2px;letter-spacing:0.23px">MiniBooNE</span>
<span class="t" style="left:227.25px;top:318.30px;font-size:12.2px;letter-spacing:0.20px">Relic density</span>
<div class="r" style="left:13.3px;top:207.2px;font-size:13px"><span class="i">σ</span><span class="i" style="font-size:10.5px;position:relative;top:2px">N</span><span style="margin-left:6.8px;letter-spacing:0.4px">(cm</span><span style="font-size:9.5px;position:relative;top:-5px;margin-left:0.5px">2</span><span style="margin-left:0.8px">)</span></div>
</div>
</div></body></html>
